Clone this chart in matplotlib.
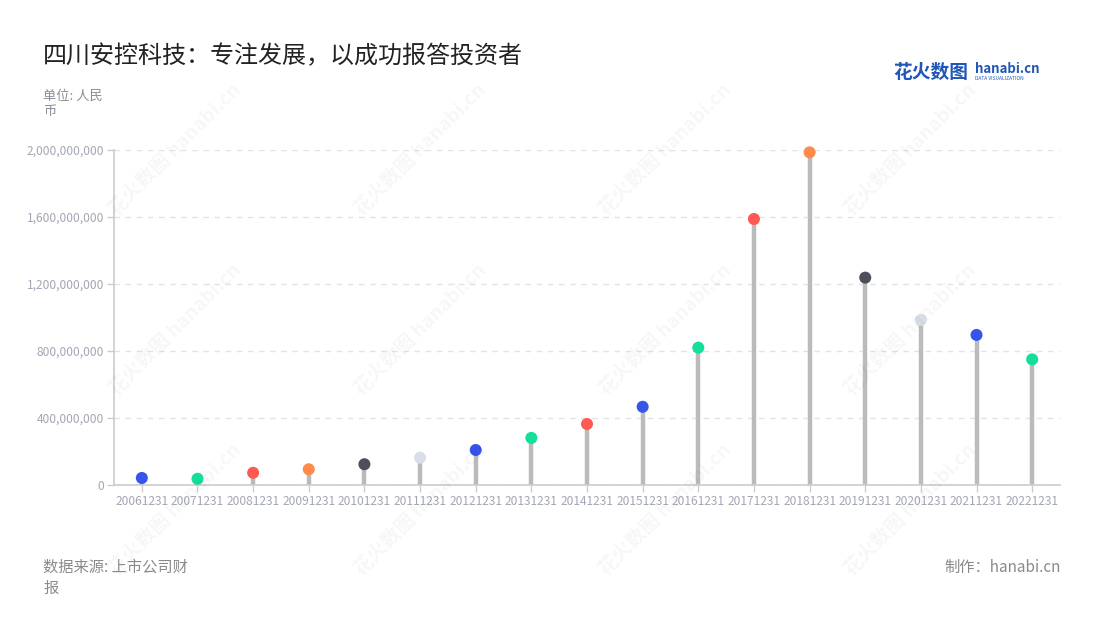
import matplotlib
matplotlib.use("Agg")
import matplotlib.pyplot as plt
from matplotlib.ticker import FuncFormatter, MultipleLocator

plt.rcParams['font.family'] = ['Noto Sans CJK SC', 'DejaVu Sans']

categories = ["20061231", "20071231", "20081231", "20091231", "20101231", "20111231",
              "20121231", "20131231", "20141231", "20151231", "20161231", "20171231",
              "20181231", "20191231", "20201231", "20211231", "20221231"]
values = [42e6, 37e6, 73e6, 94e6, 124e6, 163e6, 209e6, 281e6, 364e6, 467e6,
          820e6, 1588e6, 1986e6, 1238e6, 985e6, 896e6, 750e6]
palette = ["#3656EA", "#13DE9A", "#FF5A52", "#FF8A4C", "#4D4F5A", "#DADEEA",
           "#3656EA", "#13DE9A", "#FF5A52"]

title = "四川安控科技：专注发展，以成功报答投资者"
unit_text = "单位: 人民\n币"
source_text = "数据来源: 上市公司财\n报"
credit_text = "制作：hanabi.cn"

W, H = 1100, 620
fig = plt.figure(figsize=(W / 100, H / 100), dpi=100)
ax = fig.add_axes([114 / W, (H - 485) / H, 946 / W, (485 - 150) / H])

x = list(range(len(categories)))
colors = [palette[i % len(palette)] for i in x]
ax.vlines(x, 0, values, color="#BBBBBB", linewidth=3.2, zorder=2)
ax.scatter(x, values, s=75, c=colors, zorder=3, linewidths=0, clip_on=False)

ax.set_xlim(-0.5, len(categories) - 0.5)
ax.set_ylim(0, 2e9)
ax.yaxis.set_major_locator(MultipleLocator(4e8))
ax.yaxis.set_major_formatter(FuncFormatter(lambda v, p: f"{int(v):,}"))
ax.set_xticks(x)
ax.set_xticklabels(categories)

for s in ["top", "right"]:
    ax.spines[s].set_visible(False)
for s in ["left", "bottom"]:
    ax.spines[s].set_color("#CCCCCC")
    ax.spines[s].set_linewidth(1.2)

ax.tick_params(axis="both", colors="#CCCCCC", labelcolor="#A3A6B4", labelsize=8.6, length=5, width=1)
ax.tick_params(axis="x", pad=2)
ax.tick_params(axis="y", pad=2)
ax.grid(axis="y", linestyle=(0, (4, 4)), color="#E3E3E3", linewidth=1)
ax.set_axisbelow(True)

# watermarks
for wx, wy in [(175, 150), (420, 150), (665, 150), (910, 150),
               (175, 330), (420, 330), (665, 330), (910, 330),
               (175, 510), (420, 510), (665, 510), (910, 510)]:
    fig.text(wx / W, 1 - wy / H, "花火数图 hanabi.cn", rotation=45, fontsize=14,
             color="#000000", alpha=0.035, ha="center", va="center", fontweight="bold")

fig.text(43 / W, 1 - 56 / H, title, fontsize=17.3, color="#222222", ha="left", va="center")
fig.text(43 / W, 1 - 104 / H, unit_text, fontsize=9.5, color="#8A8D99", ha="left", va="center",
         linespacing=1.3)
fig.text(43 / W, 1 - 578 / H, source_text, fontsize=11, color="#8A8A8A", ha="left", va="center",
         linespacing=1.3)
fig.text(1061 / W, 1 - 567 / H, credit_text, fontsize=11, color="#8A8A8A", ha="right", va="center")

# logo
fig.text(893 / W, 1 - 72 / H, "花火数图", fontsize=13.5, color="#1F56B8", ha="left", va="center",
         fontweight="bold")
fig.text(975 / W, 1 - 69 / H, "hanabi.cn", fontsize=9.5, color="#1F56B8", ha="left", va="center",
         fontweight="bold")
fig.text(975 / W, 1 - 79 / H, "DATA VISUALIZATION", fontsize=3.5, color="#1F56B8", ha="left",
         va="center")

fig.savefig("out.png", dpi=100, facecolor="white")
